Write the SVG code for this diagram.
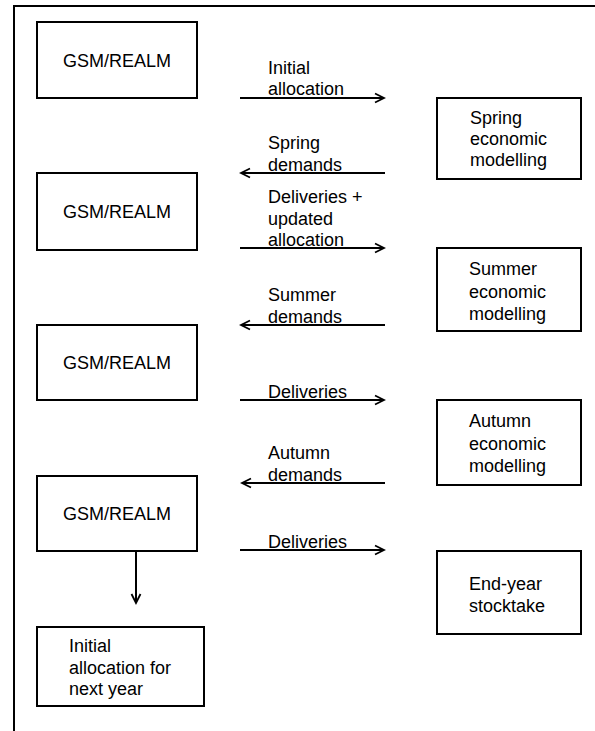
<svg xmlns="http://www.w3.org/2000/svg" width="595" height="731" viewBox="0 0 595 731">
<defs>
<marker id="arr" markerWidth="12" markerHeight="12" refX="10" refY="6" orient="auto" markerUnits="userSpaceOnUse">
<path d="M1,1.5 L10,6 L1,10.5" fill="none" stroke="#000" stroke-width="1.8"/>
</marker>
<style>
.box{fill:#fff;stroke:#000;stroke-width:2}
.t{font-family:"Liberation Sans",Arial,sans-serif;font-size:18px;fill:#000}
.c{text-anchor:middle}
.ln{stroke:#000;stroke-width:2;fill:none}
</style>
</defs>
<rect width="595" height="731" fill="#fff"/>
<path d="M14,731 L14,6 L595,6" class="ln"/>

<g id="gsm1"><rect class="box" x="37" y="22" width="160" height="76"/><text class="t c" x="117" y="66.5">GSM/REALM</text></g>
<g id="gsm2"><rect class="box" x="37" y="173" width="160" height="77"/><text class="t c" x="117" y="218">GSM/REALM</text></g>
<g id="gsm3"><rect class="box" x="37" y="325" width="160" height="75"/><text class="t c" x="117" y="369">GSM/REALM</text></g>
<g id="gsm4"><rect class="box" x="37" y="476" width="160" height="75"/><text class="t c" x="117" y="520">GSM/REALM</text></g>
<g id="next"><rect class="box" x="37" y="627" width="167" height="79"/><text class="t" x="69" y="652">Initial</text><text class="t" x="69" y="673.5">allocation for</text><text class="t" x="69" y="695">next year</text></g>

<g id="spring"><rect class="box" x="437" y="98" width="144" height="81"/><text class="t" x="470" y="124">Spring</text><text class="t" x="470" y="145">economic</text><text class="t" x="470" y="166">modelling</text></g>
<g id="summer"><rect class="box" x="437" y="248" width="144" height="83"/><text class="t" x="469" y="275">Summer</text><text class="t" x="469" y="297.5">economic</text><text class="t" x="469" y="320">modelling</text></g>
<g id="autumn"><rect class="box" x="437" y="400" width="144" height="85"/><text class="t" x="469" y="427">Autumn</text><text class="t" x="469" y="449.5">economic</text><text class="t" x="469" y="472">modelling</text></g>
<g id="endyear"><rect class="box" x="437" y="551" width="144" height="83"/><text class="t" x="469" y="590">End-year</text><text class="t" x="469" y="611.5">stocktake</text></g>

<g id="connectors">
<line class="ln" x1="240" y1="98" x2="384" y2="98" marker-end="url(#arr)"/>
<line class="ln" x1="385" y1="173" x2="241" y2="173" marker-end="url(#arr)"/>
<line class="ln" x1="240" y1="248" x2="384" y2="248" marker-end="url(#arr)"/>
<line class="ln" x1="385" y1="325" x2="241" y2="325" marker-end="url(#arr)"/>
<line class="ln" x1="240" y1="400" x2="384" y2="400" marker-end="url(#arr)"/>
<line class="ln" x1="385" y1="483" x2="242" y2="483" marker-end="url(#arr)"/>
<line class="ln" x1="240" y1="550" x2="384" y2="550" marker-end="url(#arr)"/>
<line class="ln" x1="136" y1="551" x2="136" y2="603" marker-end="url(#arr)"/>
</g>
<g id="labels">
<text class="t" x="268" y="74">Initial</text><text class="t" x="268" y="95">allocation</text>
<text class="t" x="268" y="149">Spring</text><text class="t" x="268" y="171">demands</text>
<text class="t" x="268" y="203">Deliveries +</text><text class="t" x="268" y="224.5">updated</text><text class="t" x="268" y="246">allocation</text>
<text class="t" x="268" y="301">Summer</text><text class="t" x="268" y="322.5">demands</text>
<text class="t" x="268" y="397.5">Deliveries</text>
<text class="t" x="268" y="459">Autumn</text><text class="t" x="268" y="480.5">demands</text>
<text class="t" x="268" y="547.5">Deliveries</text>
</g>
</svg>
